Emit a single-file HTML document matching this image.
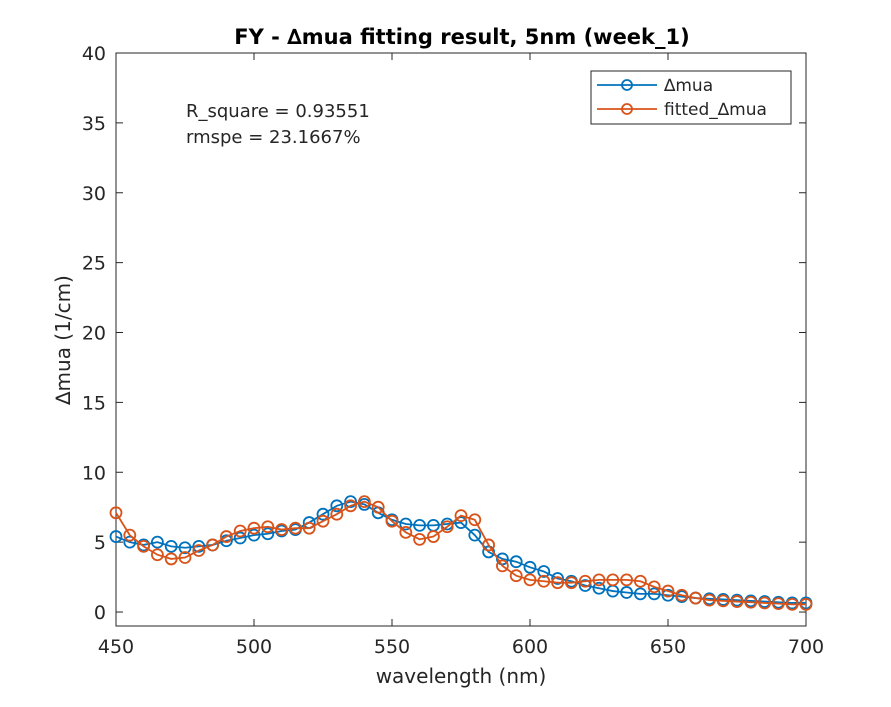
<!DOCTYPE html>
<html><head><meta charset="utf-8"><style>
body{margin:0;background:#fff;font-family:"DejaVu Sans","Liberation Sans",sans-serif;}
svg text{font-family:"DejaVu Sans","Liberation Sans",sans-serif;fill:#262626;}
</style></head><body>
<svg width="891" height="703" id="c">
<rect width="891" height="703" fill="#fff"/>
</svg>
<script>
const wavelengths=[450,455,460,465,470,475,480,485,490,495,500,505,510,515,520,525,530,535,540,545,550,555,560,565,570,575,580,585,590,595,600,605,610,615,620,625,630,635,640,645,650,655,660,665,670,675,680,685,690,695,700];
const dmua=[5.4,5.0,4.8,5.0,4.7,4.6,4.7,4.8,5.1,5.3,5.5,5.6,5.8,5.9,6.4,7.0,7.6,7.9,7.7,7.1,6.6,6.3,6.2,6.2,6.3,6.4,5.5,4.3,3.8,3.6,3.2,2.9,2.4,2.2,1.9,1.7,1.5,1.4,1.3,1.3,1.2,1.1,1.0,0.95,0.9,0.85,0.8,0.75,0.7,0.65,0.65];
const fitted=[7.1,5.5,4.7,4.1,3.8,3.9,4.4,4.8,5.4,5.8,6.0,6.1,5.9,6.0,6.0,6.5,7.0,7.6,7.9,7.5,6.5,5.7,5.2,5.4,6.1,6.9,6.6,4.8,3.3,2.6,2.3,2.2,2.1,2.1,2.2,2.3,2.3,2.3,2.2,1.8,1.5,1.2,1.0,0.85,0.8,0.75,0.7,0.65,0.6,0.55,0.55];
const xTicks=[450,500,550,600,650,700];
const yTicks=[0,5,10,15,20,25,30,35,40];
const L=116,R=806,T=53,B=626,X0=450,X1=700,Y0=-1,Y1=40;
const sx=v=>L+(v-X0)/(X1-X0)*(R-L);
const sy=v=>B-(v-Y0)/(Y1-Y0)*(B-T);
const svg=document.getElementById('c');
const NS='http://www.w3.org/2000/svg';
function mk(t,a,p){const e=document.createElementNS(NS,t);for(const k in a)e.setAttribute(k,a[k]);(p||svg).appendChild(e);return e;}
let e;
e=mk('rect',{x:L,y:T,width:R-L,height:B-T,fill:'#fff',stroke:'#262626','stroke-width':1});


xTicks.forEach(v=>{const x=sx(v);
mk('line',{x1:x,x2:x,y1:B,y2:B-7,stroke:'#262626'});mk('line',{x1:x,x2:x,y1:T,y2:T+7,stroke:'#262626'});
const t=mk('text',{x:x,y:B+27,'text-anchor':'middle','font-size':19});t.textContent=v;

});
yTicks.forEach(v=>{const y=sy(v);
mk('line',{x1:L,x2:L+7,y1:y,y2:y,stroke:'#262626'});mk('line',{x1:R,x2:R-7,y1:y,y2:y,stroke:'#262626'});
const t=mk('text',{x:L-10,y:y+7,'text-anchor':'end','font-size':19});t.textContent=v;

});
function series(vals,color,name){
const g=mk('g',{});


mk('polyline',{points:wavelengths.map((w,i)=>sx(w)+','+sy(vals[i])).join(' '),fill:'none',stroke:color,'stroke-width':1.8},g);
wavelengths.forEach((w,i)=>{const c=mk('circle',{cx:sx(w),cy:sy(vals[i]),r:5.5,fill:'none',stroke:color,'stroke-width':1.8},g);

});}
series(dmua,'#0072BD','series-dmua');
series(fitted,'#D95319','series-fitted-dmua');
</script>
<svg width="891" height="703" style="position:absolute;left:0;top:0">
<text x="462" y="44" text-anchor="middle" font-size="21" font-weight="bold" style="fill:#000">FY - ∆mua fitting result, 5nm (week_1)</text>
<text x="461" y="683" text-anchor="middle" font-size="20">wavelength (nm)</text>
<text transform="translate(70,340) rotate(-90)" text-anchor="middle" font-size="20">∆mua (1/cm)</text>
<text x="186" y="117" font-size="18">R_square = 0.93551</text>
<text x="186" y="143" font-size="18">rmspe = 23.1667%</text>
<g>
<rect x="591" y="71" width="200" height="53" fill="#fff" stroke="#262626" stroke-width="1"/>
<line x1="597" x2="657" y1="85" y2="85" stroke="#0072BD" stroke-width="1.8"/><circle cx="627" cy="85" r="5" fill="none" stroke="#0072BD" stroke-width="1.8"/>
<text x="664" y="91" font-size="17">∆mua</text>
<line x1="597" x2="657" y1="109" y2="109" stroke="#D95319" stroke-width="1.8"/><circle cx="627" cy="109" r="5" fill="none" stroke="#D95319" stroke-width="1.8"/>
<text x="664" y="115" font-size="17">fitted_∆mua</text>
</g>
</svg>
</body></html>
